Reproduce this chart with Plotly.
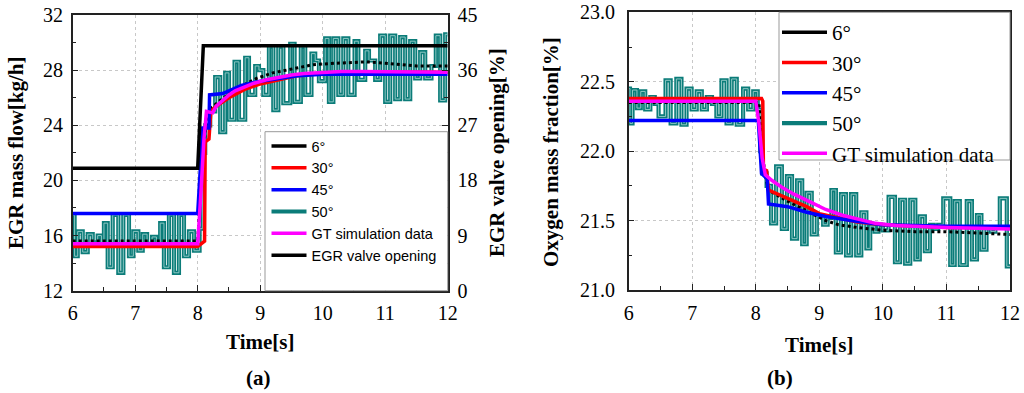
import plotly.graph_objects as go

# ---------------- data: panel (a) EGR mass flow ----------------
A_T6 = [6.0, 8.0, 8.08, 8.15, 8.2, 8.36, 8.6, 8.94, 9.2, 9.5, 9.85, 10.2, 10.7, 11.0, 11.5, 12.0]
A_V6 = [15.6, 15.6, 22.0, 24.5, 25.2, 25.8, 26.6, 27.4, 27.8, 28.1, 28.4, 28.5, 28.6, 28.5, 28.3, 28.3]

A_T30 = [6.0, 8.0, 8.11, 8.12, 8.18, 8.21, 8.3, 8.5, 8.75, 9.0, 9.3, 9.6, 10.0, 10.5, 11.0, 12.0]
A_V30 = [15.2, 15.2, 15.6, 22.8, 23.0, 25.0, 25.4, 26.0, 26.6, 27.0, 27.3, 27.6, 27.75, 27.8, 27.85, 27.85]

A_T45 = [6.0, 8.0, 8.08, 8.18, 8.19, 8.4, 8.7, 9.0, 9.3, 9.6, 10.0, 10.5, 11.0, 12.0]
A_V45 = [17.6, 17.6, 23.8, 23.8, 26.2, 26.3, 26.9, 27.2, 27.4, 27.6, 27.7, 27.7, 27.7, 27.7]

A_T50 = [6.00, 6.03, 6.08, 6.16, 6.24, 6.32, 6.40, 6.46, 6.50, 6.56, 6.64, 6.73, 6.81, 6.90,
         6.97, 7.05, 7.12, 7.19, 7.27, 7.34, 7.40, 7.46, 7.54, 7.62, 7.70, 7.78, 7.86, 7.94,
         8.03, 8.08, 8.12, 8.20, 8.28, 8.36, 8.44, 8.50, 8.59, 8.66, 8.76, 8.82, 8.92, 8.98,
         9.05, 9.14, 9.21, 9.29, 9.37, 9.48, 9.55, 9.65, 9.72, 9.82, 9.88, 9.94, 10.04, 10.10,
         10.17, 10.25, 10.33, 10.41, 10.51, 10.57, 10.68, 10.74, 10.84, 10.92, 11.00, 11.08,
         11.16, 11.24, 11.32, 11.40, 11.48, 11.56, 11.64, 11.74, 11.81, 11.88, 11.96, 12.00]
A_V50 = [17.5, 14.5, 16.3, 14.8, 16.1, 15.5, 16.0, 15.3, 16.9, 13.7, 17.5, 13.3, 17.5, 14.5,
         16.3, 14.9, 16.1, 15.4, 15.9, 15.4, 16.9, 13.7, 17.5, 13.3, 17.5, 14.5, 16.3, 14.9,
         16.5, 22.0, 24.0, 25.0, 27.5, 23.5, 27.8, 24.4, 28.6, 24.4, 28.9, 26.2, 28.3, 28.0,
         26.2, 29.7, 25.1, 29.7, 25.6, 29.9, 25.7, 29.7, 26.2, 29.2, 28.7, 27.2, 30.3, 25.7,
         30.3, 26.2, 30.3, 26.2, 30.1, 27.3, 29.4, 28.7, 27.3, 30.5, 25.7, 30.5,
         25.9, 30.4, 25.9, 30.1, 27.4, 29.3, 27.4, 28.3, 30.5, 25.8, 30.6, 30.6]

A_TGT = [6.0, 8.0, 8.05, 8.1, 8.14, 8.2, 8.24, 8.3, 8.4, 8.5, 8.6, 8.75, 8.9, 9.1, 9.3, 9.5,
         9.7, 10.0, 10.3, 10.6, 11.0, 11.5, 12.0]
A_VGT = [15.4, 15.4, 19.0, 23.0, 25.0, 24.9, 24.9, 25.4, 25.8, 26.2, 26.5, 26.8, 27.05, 27.3,
         27.5, 27.65, 27.75, 27.85, 27.9, 27.9, 27.9, 27.9, 27.85]

A_TVALVE = [6.0, 8.0, 8.09, 12.0]
A_VVALVE = [20.0, 20.0, 40.0, 40.0]

# ---------------- data: panel (b) oxygen mass fraction ----------------
B_T6 = [6.0, 8.05, 8.10, 8.14, 8.2, 8.5, 8.8, 9.1, 9.3, 9.6, 10.0, 10.5, 11.0, 11.5, 11.8, 12.0]
B_V6 = [22.35, 22.35, 22.0, 21.85, 21.72, 21.64, 21.57, 21.50, 21.47, 21.45, 21.43, 21.42,
        21.42, 21.41, 21.40, 21.40]

B_T30 = [6.0, 8.09, 8.11, 8.12, 8.17, 8.2, 8.5, 8.8, 9.0, 9.3, 9.6, 10.0, 10.5, 11.0, 12.0]
B_V30 = [22.38, 22.38, 22.36, 21.87, 21.86, 21.72, 21.66, 21.60, 21.55, 21.52, 21.49, 21.47,
         21.46, 21.45, 21.45]

B_T45 = [6.0, 8.04, 8.09, 8.18, 8.2, 8.5, 8.8, 9.1, 9.5, 10.0, 11.0, 12.0]
B_V45 = [22.22, 22.22, 21.84, 21.80, 21.62, 21.60, 21.56, 21.53, 21.50, 21.47, 21.46, 21.46]

B_T50 = [6.00, 6.02, 6.06, 6.13, 6.19, 6.26, 6.34, 6.41, 6.47, 6.58, 6.66, 6.75, 6.83, 6.91,
         6.99, 7.07, 7.15, 7.23, 7.31, 7.38, 7.46, 7.54, 7.62, 7.70, 7.80, 7.88, 7.96, 8.03,
         8.07, 8.10, 8.17, 8.24, 8.32, 8.41, 8.49, 8.57, 8.65, 8.73, 8.80, 8.88, 8.96, 9.06,
         9.13, 9.19, 9.26, 9.34, 9.42, 9.50, 9.58, 9.66, 9.74, 9.80, 9.87, 9.93, 10.00, 10.09,
         10.19, 10.27, 10.35, 10.43, 10.51, 10.58, 10.66, 10.74, 10.80, 10.87, 10.95, 11.06,
         11.13, 11.21, 11.32, 11.40, 11.48, 11.55, 11.63, 11.70, 11.77, 11.84, 11.95, 12.00]
B_V50 = [22.45, 22.20, 22.44, 22.31, 22.43, 22.30, 22.39, 22.34, 22.25, 22.51, 22.20, 22.52,
         22.19, 22.45, 22.30, 22.43, 22.30, 22.39, 22.34, 22.25, 22.51, 22.20, 22.52, 22.19,
         22.45, 22.30, 22.43, 22.30, 22.00, 21.84, 21.75, 21.48, 21.89, 21.44, 21.82, 21.37,
         21.79, 21.33, 21.70, 21.40, 21.53, 21.47, 21.52, 21.72, 21.27, 21.69, 21.25, 21.69,
         21.25, 21.56, 21.30, 21.46, 21.42, 21.47, 21.43, 21.67, 21.20, 21.65, 21.19, 21.65,
         21.22, 21.53, 21.28, 21.47, 21.44, 21.47, 21.66, 21.18, 21.64, 21.18, 21.64, 21.22,
         21.54, 21.29, 21.45, 21.42, 21.45, 21.66, 21.17, 21.17]

B_TGT = [6.0, 8.0, 8.05, 8.1, 8.15, 8.25, 8.41, 8.6, 8.83, 9.1, 9.35, 9.6, 9.88, 10.2, 10.6,
         11.0, 11.5, 12.0]
B_VGT = [22.36, 22.36, 22.2, 21.95, 21.83, 21.79, 21.74, 21.69, 21.64, 21.58, 21.54, 21.51,
         21.48, 21.465, 21.455, 21.45, 21.445, 21.44]

NAMES = ["6°", "30°", "45°", "50°", "GT simulation data", "EGR valve opening"]

TEAL = "#0b7c79"
TEAL_IN = "#8cc6c2"
SERIF = "Liberation Serif"

fig = go.Figure()


def add_panel(xa, ya, leg, t6, v6, t30, v30, t45, v45, t50, v50, tgt, vgt):
    fig.add_trace(go.Scatter(x=t50, y=v50, mode="lines", line=dict(color=TEAL, width=4.2, shape="hv"),
                             name=NAMES[3], legend=leg, legendrank=4, xaxis=xa, yaxis=ya))
    fig.add_trace(go.Scatter(x=t50, y=v50, mode="lines", line=dict(color=TEAL_IN, width=1.0, shape="hv"),
                             showlegend=False, hoverinfo="skip", xaxis=xa, yaxis=ya))
    fig.add_trace(go.Scatter(x=t6, y=v6, mode="lines", line=dict(color="black", width=3, dash="dot"),
                             showlegend=False, legendgroup=leg + "6", xaxis=xa, yaxis=ya))
    fig.add_trace(go.Scatter(x=[None], y=[None], mode="lines", line=dict(color="black", width=3.5),
                             name=NAMES[0], legend=leg, legendrank=1, legendgroup=leg + "6",
                             xaxis=xa, yaxis=ya))
    fig.add_trace(go.Scatter(x=t30, y=v30, mode="lines", line=dict(color="#ff0000", width=3.5),
                             name=NAMES[1], legend=leg, legendrank=2, xaxis=xa, yaxis=ya))
    fig.add_trace(go.Scatter(x=t45, y=v45, mode="lines", line=dict(color="#0000ff", width=3.5),
                             name=NAMES[2], legend=leg, legendrank=3, xaxis=xa, yaxis=ya))
    fig.add_trace(go.Scatter(x=tgt, y=vgt, mode="lines", line=dict(color="#ff00ff", width=3.5),
                             name=NAMES[4], legend=leg, legendrank=5, xaxis=xa, yaxis=ya))


add_panel("x", "y", "legend", A_T6, A_V6, A_T30, A_V30, A_T45, A_V45, A_T50, A_V50, A_TGT, A_VGT)
fig.add_trace(go.Scatter(x=A_TVALVE, y=A_VVALVE, mode="lines", line=dict(color="black", width=3.5),
                         name=NAMES[5], legend="legend", legendrank=6, xaxis="x", yaxis="y2"))
add_panel("x2", "y3", "legend2", B_T6, B_V6, B_T30, B_V30, B_T45, B_V45, B_T50, B_V50, B_TGT, B_VGT)

W, H = 1024, 393


def px(xp):
    return xp / W


def py(yp):
    return 1 - yp / H


tickfont = dict(family=SERIF, size=20, color="black")
common = dict(showline=True, linecolor="#222", linewidth=1.5, ticks="inside", ticklen=6,
              tickcolor="#222", tickwidth=1, tickfont=tickfont, showgrid=True,
              gridcolor="#c8c8c8", griddash="dot", gridwidth=1, zeroline=False,
              automargin=False, ticklabeloverflow="allow")

fig.update_layout(
    width=W, height=H, autosize=False,
    font=dict(family=SERIF, color="black"),
    margin=dict(l=0, r=0, t=0, b=0, autoexpand=False),
    paper_bgcolor="white", plot_bgcolor="white",
    xaxis=dict(domain=[px(72.7), px(447.7)], range=[6, 12], dtick=1, anchor="y", mirror=True,
               minor=dict(ticks="inside", ticklen=4, dtick=0.5, tickcolor="#222"),
               ticklabelstandoff=4, **common),
    yaxis=dict(domain=[py(290.7), py(15)], range=[12, 32], dtick=4, anchor="x",
               minor=dict(ticks="inside", ticklen=4, dtick=2, tickcolor="#222"),
               ticklabelstandoff=4, **common),
    yaxis2=dict(overlaying="y", side="right", range=[0, 45], dtick=9, anchor="x",
                showline=True, linecolor="#222", linewidth=1.5, ticks="inside", ticklen=6,
                tickcolor="#222", tickfont=tickfont, showgrid=False, zeroline=False,
                automargin=False, ticklabeloverflow="allow",
                minor=dict(ticks="inside", ticklen=4, dtick=4.5, tickcolor="#222"),
                ticklabelstandoff=4),
    xaxis2=dict(domain=[px(628.7), px(1010)], range=[6, 12], dtick=1, anchor="y3", mirror=True,
                minor=dict(ticks="inside", ticklen=4, dtick=0.5, tickcolor="#222"),
                ticklabelstandoff=4, **common),
    yaxis3=dict(domain=[py(290), py(12.3)], range=[21, 23], dtick=0.5, tickformat=".1f",
                anchor="x2", mirror=True,
                minor=dict(ticks="inside", ticklen=4, dtick=0.25, tickcolor="#222"),
                ticklabelstandoff=8, **common),
    legend=dict(x=px(266.5), y=py(130), xanchor="left", yanchor="top",
                bgcolor="rgba(0,0,0,0)", borderwidth=0, tracegroupgap=0,
                font=dict(family="Liberation Sans", size=14.5, color="black"), itemwidth=35),
    legend2=dict(x=px(777), y=py(12), xanchor="left", yanchor="top",
                 bgcolor="rgba(0,0,0,0)", borderwidth=0, tracegroupgap=0,
                 font=dict(family=SERIF, size=21, color="black"), itemwidth=45),
    shapes=[
        dict(type="rect", xref="paper", yref="paper", x0=px(265), x1=px(447.7),
             y0=py(290.7), y1=py(131.7), fillcolor="white", line=dict(color="#999", width=1),
             layer="above"),
        dict(type="rect", xref="paper", yref="paper", x0=px(779), x1=px(1010),
             y0=py(160), y1=py(12.3), fillcolor="white", line=dict(color="#999", width=1),
             layer="above"),
    ],
)

title_font = dict(family=SERIF, size=21, color="black", weight="bold")
ann = [
    ("EGR mass flow[kg/h]", 16, 153, -90),
    ("EGR valve opening[%]", 497, 153, -90),
    ("Oxygen mass fraction[%]", 551, 152, -90),
    ("Time[s]", 260, 342, 0),
    ("Time[s]", 819, 345, 0),
    ("(a)", 258, 378, 0),
    ("(b)", 780, 378, 0),
]
for text, x, y, ang in ann:
    fig.add_annotation(text=text, x=px(x), y=py(y), xref="paper", yref="paper",
                       xanchor="center", yanchor="middle", showarrow=False,
                       textangle=ang, font=title_font)

# remove the default 8px page margin so the figure sits at the window's corner
fig.write_html("out.html", config={"displayModeBar": False},
               post_script="document.body.style.margin='0';")
